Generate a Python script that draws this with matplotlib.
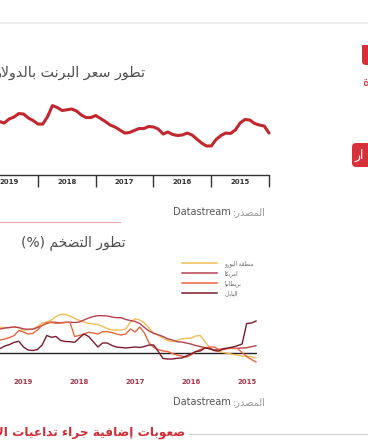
import matplotlib
matplotlib.use('Agg')
import matplotlib.pyplot as plt
from matplotlib.lines import Line2D
from matplotlib.patches import FancyBboxPatch, Rectangle
from matplotlib.transforms import Affine2D

W, H = 368, 445
DPI = 100

# ---------------- data ----------------
# Brent price (USD), monthly, month index 0 = Jan 2015
brent_months = list(range(57))
brent_price = [49.4, 58.0, 59.2, 61.1, 65.4, 66.0, 61.7, 53.1, 48.8, 49.4,
               46.3, 41.4, 33.5, 33.5, 37.1, 42.0, 47.0, 49.4, 47.0, 46.3,
               47.6, 50.6, 48.2, 54.3, 56.8, 57.4, 54.9, 54.9, 52.5, 50.0,
               49.4, 53.1, 56.8, 59.2, 63.5, 67.2, 70.9, 68.4, 68.4, 71.5,
               76.4, 78.9, 77.9, 77.0, 80.7, 83.1, 69.7, 60.4, 60.4, 64.7,
               67.8, 72.7, 73.3, 69.0, 66.6, 61.7, 63.5]
brent_year_ticks = [0, 12, 24, 36, 48]
brent_label_pos = [6, 18, 30, 42, 54]
year_labels = ['2015', '2016', '2017', '2018', '2019']

# Inflation (%), monthly, index 0 = earliest month on the right
infl_months = list(range(57))
infl_euro = [-0.5, -0.35, -0.35, -0.3, -0.2, -0.15, -0.03, 0.05, 0.15, 0.25,
             0.55, 1.15, 1.75, 1.7, 1.47, 1.47, 1.42, 1.25, 1.15, 1.25,
             1.5, 1.75, 2.0, 2.5, 3.0, 3.3, 3.42, 3.1, 2.4, 2.3,
             2.3, 2.3, 2.45, 2.65, 2.85, 2.9, 2.95, 3.1, 3.25, 3.45,
             3.7, 3.85, 3.87, 3.65, 3.3, 3.1, 3.0, 2.65, 2.4, 2.32,
             2.3, 2.5, 2.63, 2.55, 2.48, 2.6, 2.65]
infl_us = [0.73, 0.63, 0.53, 0.5, 0.47, 0.47, 0.47, 0.45, 0.35, 0.3,
           0.4, 0.55, 0.65, 0.75, 0.9, 1.0, 1.1, 1.13, 1.3, 1.42,
           1.65, 1.82, 1.96, 2.2, 2.55, 2.95, 3.15, 3.25, 3.35, 3.53,
           3.53, 3.6, 3.7, 3.73, 3.73, 3.65, 3.5, 3.3, 3.1, 3.05,
           3.07, 3.07, 3.03, 3.05, 3.1, 2.95, 2.75, 2.55, 2.38, 2.38,
           2.4, 2.55, 2.6, 2.55, 2.5, 2.4, 2.35]
infl_uk = [-0.9, -0.65, -0.35, 0.05, 0.45, 0.47, 0.45, 0.35, 0.35, 0.6,
           0.6, 0.52, 0.35, 0.1, -0.2, -0.43, -0.3, -0.2, -0.05, 0.15,
           0.2, 0.35, 0.55, 1.0, 2.0, 2.6, 2.1, 2.4, 1.9, 1.8,
           1.9, 2.05, 2.13, 2.13, 1.9, 2.0, 2.07, 1.9, 1.75, 1.65,
           3.07, 3.05, 3.0, 2.97, 3.05, 3.05, 2.75, 2.3, 1.96, 1.9,
           2.1, 2.25, 1.75, 1.55, 1.4, 1.3, 1.25]
infl_japan = [3.2, 3.0, 2.95, 0.9, 0.73, 0.6, 0.5, 0.4, 0.2, 0.25,
              0.45, 0.5, 0.2, 0.15, -0.1, -0.3, -0.5, -0.53, -0.6, -0.6,
              -0.55, 0.15, 0.8, 0.8, 0.65, 0.55, 0.6, 0.55, 0.5, 0.55,
              0.6, 0.75, 1.0, 1.0, 0.6, 1.13, 1.65, 1.9, 1.5, 1.07,
              1.13, 1.15, 1.25, 1.65, 1.57, 1.75, 0.8, 0.35, 0.25, 0.3,
              0.6, 1.17, 1.07, 0.85, 0.7, 0.45, 0.35]
infl_label_pos = [2, 14, 26, 38, 50]
series_names = ['منطقة اليورو', 'امريكا', 'بريطانيا', 'اليابان']
series_colors = ['#f2bd55', '#b5434f', '#e8663f', '#7b1c2e']

title_brent = 'تطور سعر البرنت بالدولار'
title_infl = 'تطور التضخم (%)'
source_ar = 'المصدر:'
source_en = 'Datastream'
bottom_title = 'صعوبات إضافية جراء تداعيات الأزمة'

# ---------------- Arabic shaping (presentation forms) ----------------
_AR = {
    'ء': (0xFE80, 1), 'آ': (0xFE81, 2), 'أ': (0xFE83, 2), 'ؤ': (0xFE85, 2), 'إ': (0xFE87, 2),
    'ئ': (0xFE89, 4), 'ا': (0xFE8D, 2), 'ب': (0xFE8F, 4), 'ة': (0xFE93, 2), 'ت': (0xFE95, 4),
    'ث': (0xFE99, 4), 'ج': (0xFE9D, 4), 'ح': (0xFEA1, 4), 'خ': (0xFEA5, 4), 'د': (0xFEA9, 2),
    'ذ': (0xFEAB, 2), 'ر': (0xFEAD, 2), 'ز': (0xFEAF, 2), 'س': (0xFEB1, 4), 'ش': (0xFEB5, 4),
    'ص': (0xFEB9, 4), 'ض': (0xFEBD, 4), 'ط': (0xFEC1, 4), 'ظ': (0xFEC5, 4), 'ع': (0xFEC9, 4),
    'غ': (0xFECD, 4), 'ف': (0xFED1, 4), 'ق': (0xFED5, 4), 'ك': (0xFED9, 4), 'ل': (0xFEDD, 4),
    'م': (0xFEE1, 4), 'ن': (0xFEE5, 4), 'ه': (0xFEE9, 4), 'و': (0xFEED, 2), 'ى': (0xFEEF, 2),
    'ي': (0xFEF1, 4),
}
_LA = {'آ': 0xFEF5, 'أ': 0xFEF7, 'إ': 0xFEF9, 'ا': 0xFEFB}


def shape(s):
    res = []
    n = len(s)
    i = 0
    while i < n:
        c = s[i]
        if c not in _AR:
            res.append(c)
            i += 1
            continue
        prev = s[i - 1] if i > 0 else None
        pc = prev is not None and prev in _AR and _AR[prev][1] == 4
        if c == 'ل' and i + 1 < n and s[i + 1] in _LA:
            res.append(chr(_LA[s[i + 1]] + (1 if pc else 0)))
            i += 2
            continue
        nxt = s[i + 1] if i + 1 < n else None
        nc = nxt is not None and nxt in _AR and nxt != 'ء'
        start, k = _AR[c]
        if k == 4:
            f = 3 if (pc and nc) else 1 if pc else 2 if nc else 0
        elif k == 2:
            f = 1 if pc else 0
        else:
            f = 0
        res.append(chr(start + f))
        i += 1
    return ''.join(res)


def rtl(s):
    mirror = {'(': ')', ')': '(', '[': ']', ']': '['}
    return ''.join(mirror.get(c, c) for c in reversed(shape(s)))


# ---------------- figure ----------------
plt.rcParams['font.family'] = ['DejaVu Sans']
fig = plt.figure(figsize=(W / DPI, H / DPI), dpi=DPI)
fig.patch.set_facecolor('white')
TP = Affine2D().scale(1, -1).translate(0, H)   # pixel coords, origin top-left


def fx(x):
    return x / W


def fy(y):
    return 1 - y / H


# decorative lines
fig.add_artist(Line2D([0, 368], [22.5, 22.5], transform=TP, color='#ebebeb', lw=1.2))
fig.add_artist(Line2D([0, 120], [221.5, 221.5], transform=TP, color='#eaa5a8', lw=0.8))
fig.add_artist(Line2D([189, 368], [433.5, 433.5], transform=TP, color='#cfcfcf', lw=0.8))

# right-side badges (cut off)
fig.add_artist(Rectangle((362, 45), 20, 10, transform=TP, color='#d42f37', lw=0))
fig.add_artist(FancyBboxPatch((362, 45), 20, 20, boxstyle='round,pad=0,rounding_size=4',
                              transform=TP, color='#d42f37', lw=0))
fig.text(362.5, 83, rtl('ة'), transform=TP, ha='left', va='center', fontsize=9, color='#d42f37')
fig.add_artist(FancyBboxPatch((352, 143), 30, 24, boxstyle='round,pad=0,rounding_size=4',
                              transform=TP, color='#d8313b', lw=0))
fig.text(354.5, 155, rtl('ار'), transform=TP, ha='left', va='center', fontsize=9, color='white')

# ---------------- chart 1: Brent ----------------
ax1 = fig.add_axes([fx(-30), fy(175), 299 / W, 85 / H])
ax1.plot(brent_months, brent_price, color='#c1272d', lw=2.2, solid_joinstyle='round',
         solid_capstyle='round', clip_on=False)
ax1.set_xlim((269 + 30) / 4.8125, 0)
ax1.set_ylim(-2.1, 102.2)
for s in ['top', 'left', 'right']:
    ax1.spines[s].set_visible(False)
ax1.spines['bottom'].set_color('#333333')
ax1.spines['bottom'].set_linewidth(1.0)
ax1.set_yticks([])
ax1.set_xticks(brent_year_ticks)
ax1.set_xticklabels([])
ax1.tick_params(axis='x', which='major', direction='out', length=8.6, width=1.0, color='#333333')
ax1.set_xticks(brent_label_pos, minor=True)
ax1.set_xticklabels(year_labels, minor=True, fontsize=5, fontweight='bold', color='#333333')
ax1.tick_params(axis='x', which='minor', length=0, pad=2.8)
ax1.patch.set_alpha(0)

fig.text(146, 73, rtl(title_brent), transform=TP, ha='right', va='center',
         fontsize=10.3, color='#4d4d4d')

# ---------------- chart 2: inflation ----------------
ax2 = fig.add_axes([fx(-10), fy(370), 267 / W, 70 / H])
ax2.axhline(0, color='#222222', lw=1.0, zorder=1)
all_series = [infl_euro, infl_us, infl_uk, infl_japan]
handles = []
for vals, col in zip(all_series, series_colors):
    ln, = ax2.plot(infl_months, vals, color=col, lw=1.0, zorder=2)
    handles.append(Line2D([], [], color=col, lw=1.1))
ax2.set_xlim((256 + 10) / 4.65, -1 / 4.65)
ax2.set_ylim(-1.7, 5.3)
for s in ax2.spines.values():
    s.set_visible(False)
ax2.set_yticks([])
ax2.set_xticks(infl_label_pos)
ax2.set_xticklabels(year_labels, fontsize=5, fontweight='bold', color='#a8384a')
ax2.tick_params(axis='x', length=0, pad=6.8)
ax2.patch.set_alpha(0)

fig.legend(handles, [rtl(n) for n in series_names], loc='upper left',
           bbox_to_anchor=(fx(181.7), fy(260)), bbox_transform=fig.transFigure,
           frameon=False, fontsize=4, handlelength=6.3, handletextpad=1.4,
           labelspacing=0.62, borderpad=0, borderaxespad=0, labelcolor='#666666')

fig.text(126, 243, rtl(title_infl), transform=TP, ha='right', va='center',
         fontsize=10, color='#4d4d4d')

# ---------------- sources ----------------
src_texts = []
for yy in (212, 402):
    t = fig.text(266, yy, rtl(source_ar), transform=TP, ha='right', va='center',
                 fontsize=7, color='#9a9a9a')
    src_texts.append((t, yy))
fig.canvas.draw()
for t, yy in src_texts:
    bb = t.get_window_extent()
    fig.text(bb.x0 - 2.5, yy, source_en, transform=TP, ha='right', va='center',
             fontsize=7, color='#555555')

# ---------------- bottom heading ----------------
fig.text(185, 432, rtl(bottom_title), transform=TP, ha='right', va='center',
         fontsize=8.7, fontweight='bold', color='#d12d35')

fig.savefig('out.png', dpi=DPI, facecolor='white')
